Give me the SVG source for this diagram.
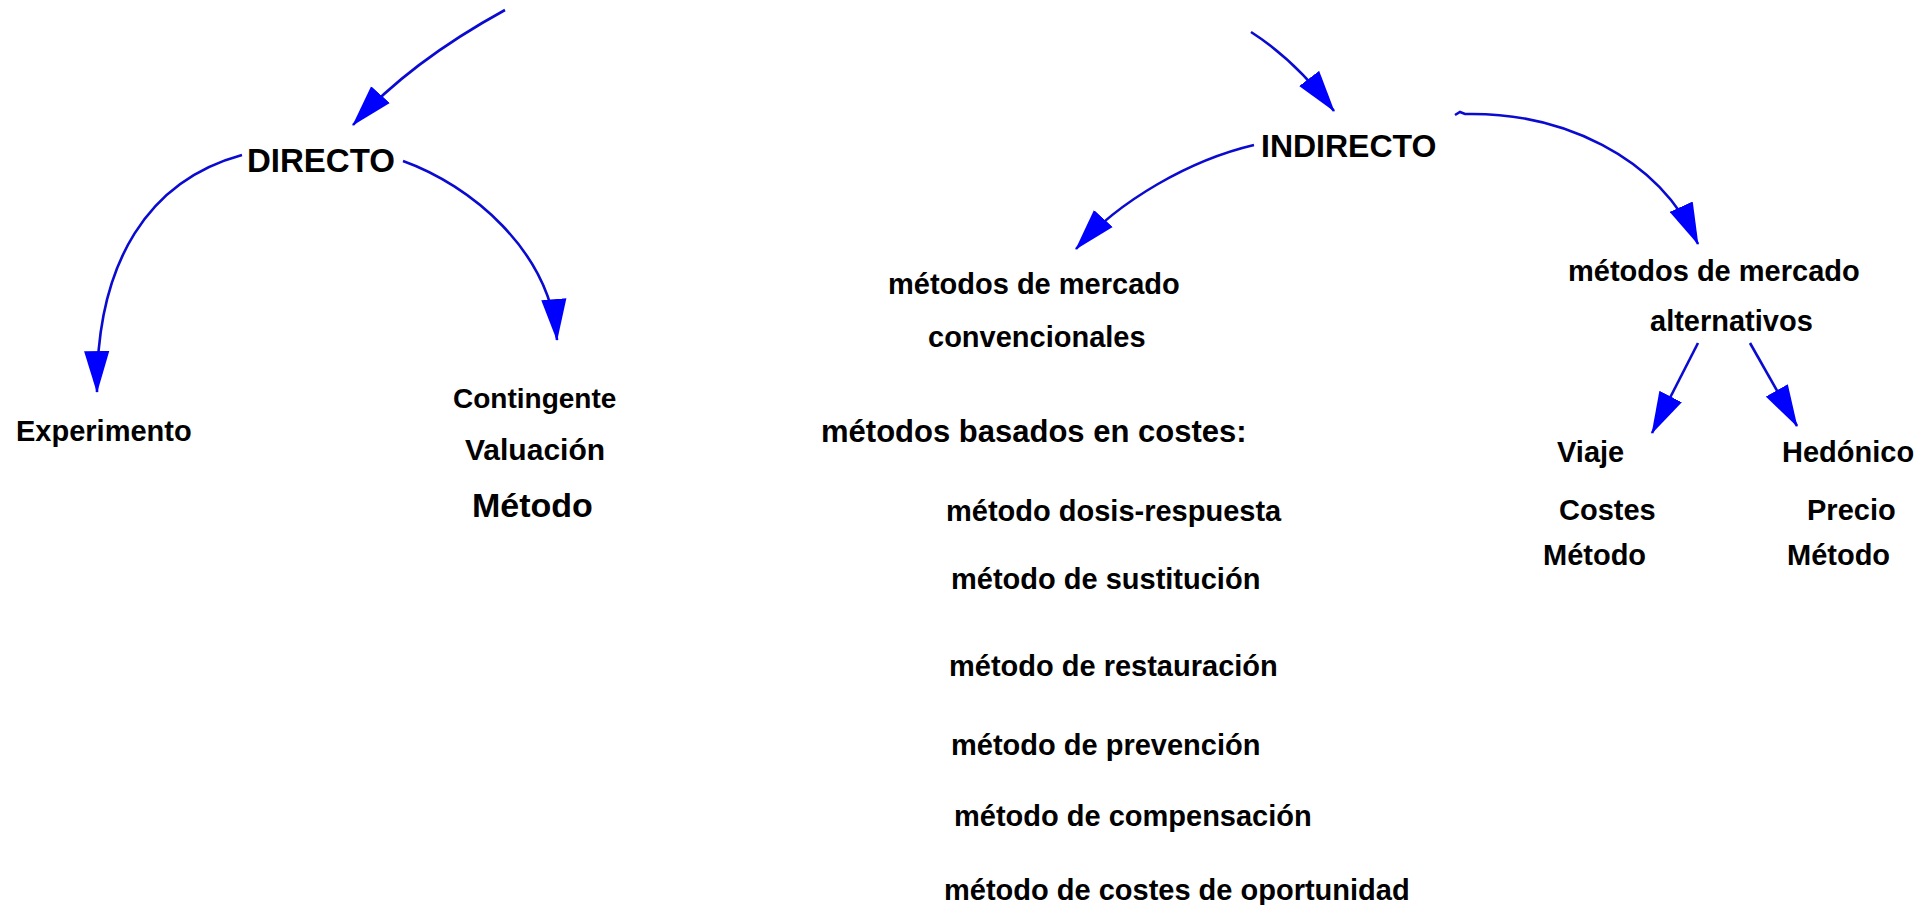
<svg xmlns="http://www.w3.org/2000/svg" width="1921" height="905" viewBox="0 0 1921 905">
<style>
text{font-family:"Liberation Sans",Arial,sans-serif;font-weight:bold;fill:#000}
.c{fill:none;stroke:#0a0ad0;stroke-width:2.6;stroke-linecap:butt}
</style>
<defs>
<marker id="ah" markerUnits="userSpaceOnUse" markerWidth="42" markerHeight="26" viewBox="0 0 40 24" refX="39" refY="12" orient="auto">
<path d="M0,0 L40,12 L0,24 z" fill="#0000ff"/>
</marker>
</defs>
<rect width="1921" height="905" fill="#fff"/>
<g id="connectors">
<path class="c" d="M505,10 Q410,62 353,125" marker-end="url(#ah)"/>
<path class="c" d="M242,155 C150,180 96,260 97,392" marker-end="url(#ah)"/>
<path class="c" d="M403,161 C470,185 550,250 557,340" marker-end="url(#ah)"/>
<path class="c" d="M1251,32 Q1295,60 1334,111" marker-end="url(#ah)"/>
<path class="c" d="M1254,145 C1190,160 1120,200 1076,249" marker-end="url(#ah)"/>
<path class="c" d="M1455,115 L1460,112 L1465,114 C1560,112 1658,155 1698,244" marker-end="url(#ah)"/>
<path class="c" d="M1698,343 L1652,433" marker-end="url(#ah)"/>
<path class="c" d="M1750,343 L1797,426" marker-end="url(#ah)"/>
</g>
<g id="directo"><text x="247" y="172" font-size="33">DIRECTO</text></g>
<g id="indirecto"><text x="1261" y="157" font-size="32">INDIRECTO</text></g>
<g id="experimento"><text x="16" y="441" font-size="29">Experimento</text></g>
<g id="contingente">
<text x="453" y="408" font-size="28">Contingente</text>
<text x="465" y="460" font-size="30">Valuación</text>
<text x="472" y="517" font-size="34">Método</text>
</g>
<g id="convencionales">
<text x="888" y="294" font-size="29">métodos de mercado</text>
<text x="928" y="347" font-size="29">convencionales</text>
</g>
<g id="costes">
<text x="821" y="442" font-size="31">métodos basados en costes:</text>
<text x="946" y="521" font-size="29">método dosis-respuesta</text>
<text x="951" y="589" font-size="29">método de sustitución</text>
<text x="949" y="676" font-size="29">método de restauración</text>
<text x="951" y="755" font-size="29">método de prevención</text>
<text x="954" y="826" font-size="29">método de compensación</text>
<text x="944" y="900" font-size="29">método de costes de oportunidad</text>
</g>
<g id="alternativos">
<text x="1568" y="281" font-size="29">métodos de mercado</text>
<text x="1650" y="331" font-size="29">alternativos</text>
</g>
<g id="viaje">
<text x="1557" y="462" font-size="29">Viaje</text>
<text x="1559" y="520" font-size="29">Costes</text>
<text x="1543" y="565" font-size="29">Método</text>
</g>
<g id="hedonico">
<text x="1782" y="462" font-size="29">Hedónico</text>
<text x="1807" y="520" font-size="29">Precio</text>
<text x="1787" y="565" font-size="29">Método</text>
</g>
</svg>
